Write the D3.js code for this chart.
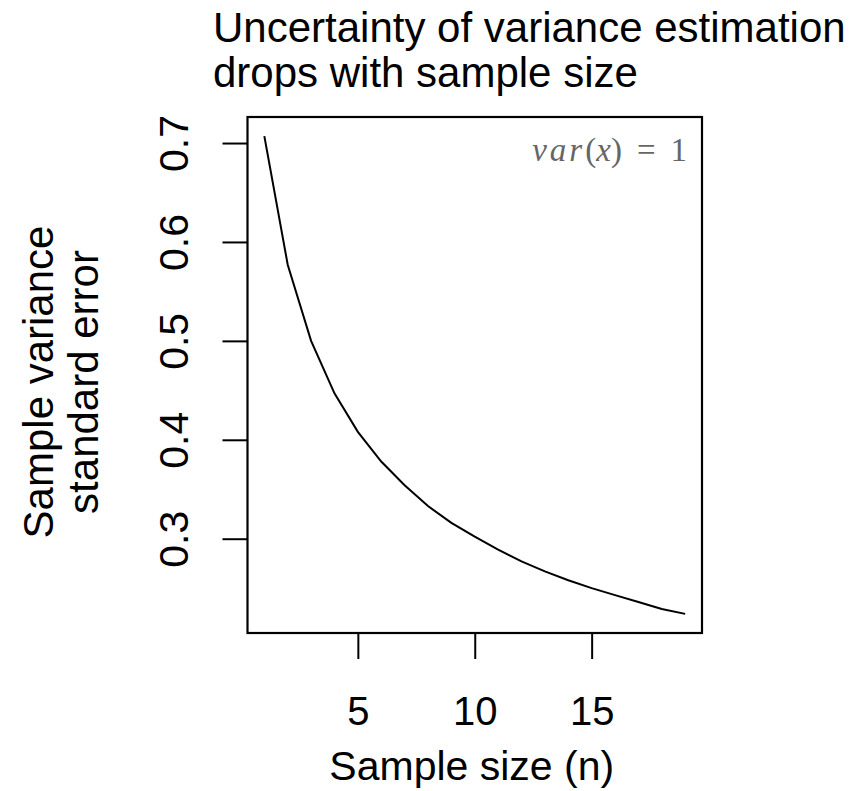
<!DOCTYPE html>
<html lang="en">
<head>
    <meta charset="UTF-8">
    <title>Variance estimation uncertainty</title>
    <style>
        body { margin: 0; background: #fff; }
        text {
            font-family: "Liberation Sans", Arial, Helvetica, sans-serif;
            fill: #000;
        }
        .tick line { stroke: #000; stroke-width: 2px; }
        .tick text { font-size: 40px; }
    </style>
    <script src="https://d3js.org/d3.v7.min.js"></script>
</head>
<body>
<svg></svg>
<script>
    // sample size n and the standard error of the sample variance
    const sampleSize = [1, 2, 3, 4, 5, 6, 7, 8, 9, 10, 11, 12, 13, 14, 15, 16, 17, 18, 19];
    const stdError = [0.707, 0.577, 0.5, 0.447, 0.408, 0.378, 0.354, 0.333, 0.316, 0.302,
                      0.289, 0.277, 0.267, 0.258, 0.25, 0.243, 0.236, 0.229, 0.224];
    const xTicks = [5, 10, 15];
    const yTicks = [0.3, 0.4, 0.5, 0.6, 0.7];
    const titleLines = ["Uncertainty of variance estimation", "drops with sample size"];
    const yTitleLines = ["Sample variance", "standard error"];

    const width = 867, height = 791;
    const plot = { left: 247.5, right: 702, top: 117, bottom: 633 };

    const svg = d3.select("svg").attr("width", width).attr("height", height);

    // R style 4% padding of the data range
    function padded(vals) {
        const [lo, hi] = d3.extent(vals);
        const p = (hi - lo) * 0.04;
        return [lo - p, hi + p];
    }

    const x = d3.scaleLinear().domain(padded(sampleSize)).range([plot.left, plot.right]);
    const y = d3.scaleLinear().domain(padded(stdError)).range([plot.bottom, plot.top]);

    // x axis
    const gx = svg.append("g")
        .attr("transform", `translate(0,${plot.bottom})`)
        .call(d3.axisBottom(x).tickValues(xTicks).tickSize(26).tickPadding(0).tickSizeOuter(0));
    gx.select(".domain").remove();
    gx.selectAll(".tick text").attr("dy", null).attr("y", 92).attr("font-size", 41);

    // y axis, labels rotated like R's default
    const gy = svg.append("g")
        .attr("transform", `translate(${plot.left},0)`)
        .call(d3.axisLeft(y).tickValues(yTicks).tickSize(25).tickFormat(d3.format(".1f")).tickSizeOuter(0));
    gy.select(".domain").remove();
    gy.selectAll(".tick text")
        .attr("x", null).attr("dy", null)
        .attr("text-anchor", "middle")
        .style("font-size", "41px")
        .attr("transform", "translate(-60,0) rotate(-90)");

    // curve
    svg.append("path")
        .datum(sampleSize.map((n, i) => [n, stdError[i]]))
        .attr("fill", "none")
        .attr("stroke", "#000")
        .attr("stroke-width", 2)
        .attr("d", d3.line().x(d => x(d[0])).y(d => y(d[1])));

    // box
    svg.append("rect")
        .attr("x", plot.left).attr("y", plot.top)
        .attr("width", plot.right - plot.left).attr("height", plot.bottom - plot.top)
        .attr("fill", "none").attr("stroke", "#000").attr("stroke-width", 2.2);

    // title
    svg.append("g").selectAll("text")
        .data(titleLines)
        .join("text")
        .attr("x", 213)
        .attr("y", (d, i) => 42 + i * 45)
        .attr("font-size", 42)
        .text(d => d);

    // x title
    svg.append("text")
        .attr("x", (plot.left + plot.right) / 2 - 3)
        .attr("y", 780)
        .attr("text-anchor", "middle")
        .attr("font-size", 41)
        .text("Sample size (n)");

    // y title
    svg.append("g").selectAll("text")
        .data(yTitleLines)
        .join("text")
        .attr("text-anchor", "middle")
        .attr("font-size", 42)
        .attr("transform", (d, i) => `translate(${53 + i * 45},382) rotate(-90)`)
        .text(d => d);

    // annotation
    const note = svg.append("text")
        .attr("x", 687)
        .attr("y", 161)
        .attr("text-anchor", "end")
        .style("font-family", "'Liberation Serif', 'Times New Roman', serif")
        .style("fill", "#666")
        .attr("font-size", 33);
    note.append("tspan").attr("font-style", "italic").attr("letter-spacing", 3).text("var");
    note.append("tspan").text("(");
    note.append("tspan").attr("font-style", "italic").text("x");
    note.append("tspan").text(")");
    note.append("tspan").attr("dx", 15).text("=");
    note.append("tspan").attr("dx", 15).text("1");
</script>
</body>
</html>
